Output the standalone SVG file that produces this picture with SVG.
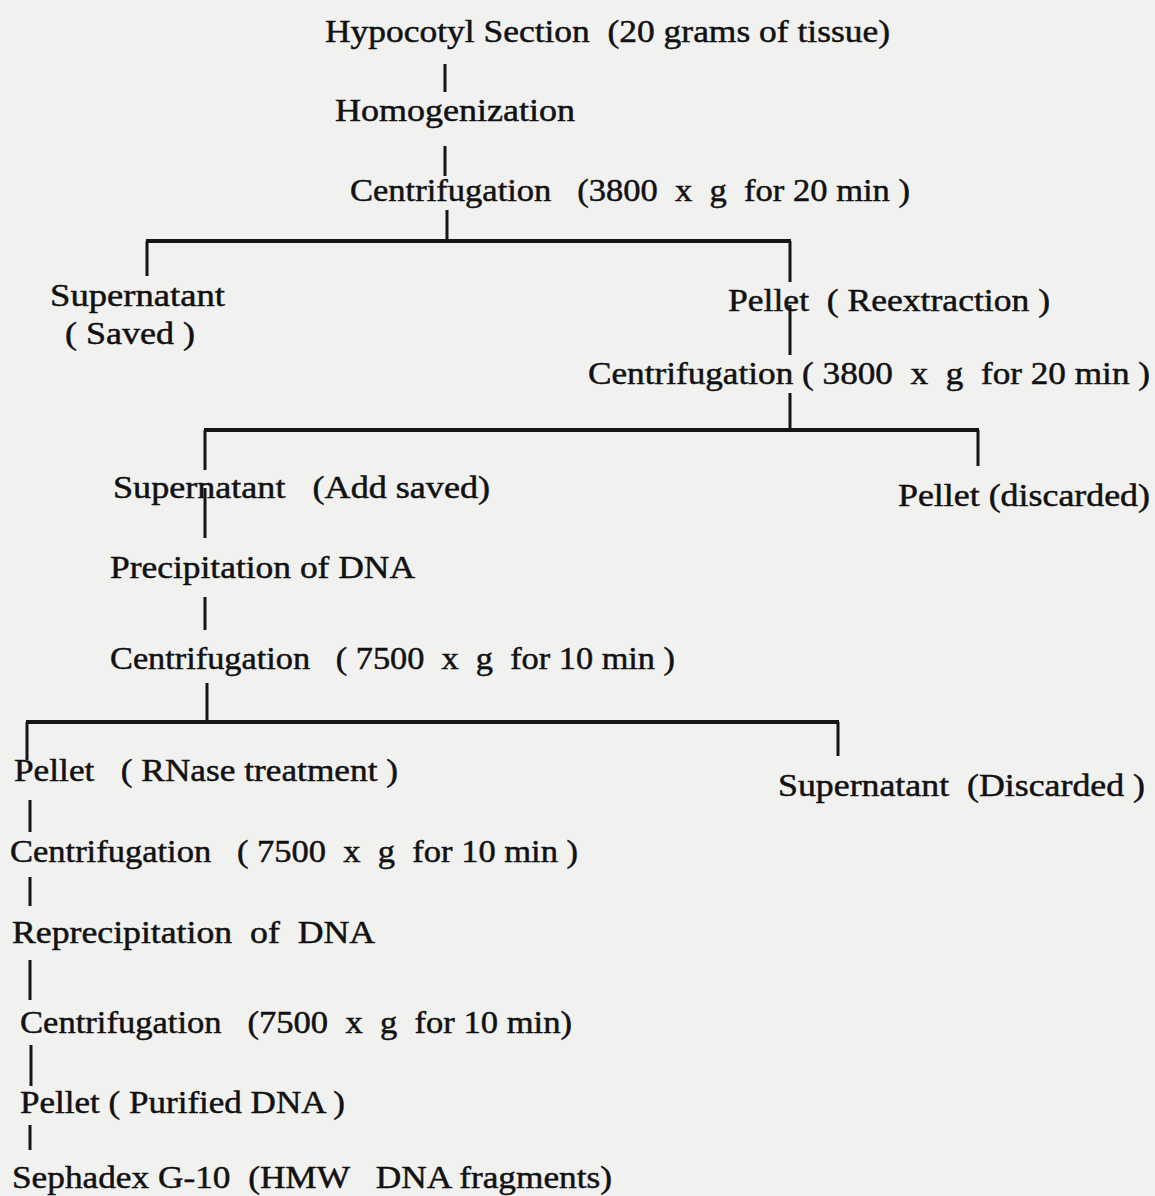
<svg xmlns="http://www.w3.org/2000/svg" width="1155" height="1196" viewBox="0 0 1155 1196">
<style>
text{font-family:"Liberation Serif","DejaVu Serif",serif;font-size:32px;fill:#111;stroke:#111;stroke-width:0.5;white-space:pre}
.c line{stroke:#151515;stroke-width:3}
.c .h{stroke-width:4}
</style>
<rect width="1155" height="1196" fill="#f1f1f0"/>
<g class="c" id="connectors">
<line x1="445" y1="64" x2="445" y2="92"/>
<line x1="445" y1="146" x2="445" y2="176"/>
<line x1="447" y1="210" x2="447" y2="241"/>
<line class="h" x1="146" y1="241" x2="791" y2="241"/>
<line x1="147" y1="241" x2="147" y2="276"/>
<line x1="790" y1="241" x2="790" y2="282"/>
<line x1="790" y1="305" x2="790" y2="355"/>
<line x1="790" y1="393" x2="790" y2="430"/>
<line class="h" x1="204" y1="430" x2="979" y2="430"/>
<line x1="205" y1="430" x2="205" y2="470"/>
<line x1="978" y1="430" x2="978" y2="466"/>
<line x1="205" y1="488" x2="205" y2="538"/>
<line x1="205" y1="597" x2="205" y2="630"/>
<line x1="207" y1="683" x2="207" y2="722"/>
<line class="h" x1="26" y1="722" x2="839" y2="722"/>
<line x1="27" y1="722" x2="27" y2="760"/>
<line x1="838" y1="722" x2="838" y2="756"/>
<line x1="30" y1="800" x2="30" y2="832"/>
<line x1="30" y1="877" x2="30" y2="906"/>
<line x1="30" y1="960" x2="30" y2="1000"/>
<line x1="31" y1="1045" x2="31" y2="1086"/>
<line x1="30" y1="1125" x2="30" y2="1150"/>
</g>
<g id="n1"><text x="325" y="42" textLength="565" lengthAdjust="spacingAndGlyphs">Hypocotyl Section  (20 grams of tissue)</text></g>
<g id="n2"><text x="335" y="121" textLength="240" lengthAdjust="spacingAndGlyphs">Homogenization</text></g>
<g id="n3"><text x="350" y="201" textLength="560" lengthAdjust="spacingAndGlyphs">Centrifugation   (3800  x  g  for 20 min )</text></g>
<g id="n4"><text x="50" y="306" textLength="175" lengthAdjust="spacingAndGlyphs">Supernatant</text><text x="65" y="344" textLength="130" lengthAdjust="spacingAndGlyphs">( Saved )</text></g>
<g id="n5"><text x="728" y="311" textLength="322" lengthAdjust="spacingAndGlyphs">Pellet  ( Reextraction )</text></g>
<g id="n6"><text x="588" y="384" textLength="562" lengthAdjust="spacingAndGlyphs">Centrifugation ( 3800  x  g  for 20 min )</text></g>
<g id="n7"><text x="113" y="498" textLength="377" lengthAdjust="spacingAndGlyphs">Supernatant   (Add saved)</text></g>
<g id="n8"><text x="898" y="506" textLength="252" lengthAdjust="spacingAndGlyphs">Pellet (discarded)</text></g>
<g id="n9"><text x="110" y="578" textLength="305" lengthAdjust="spacingAndGlyphs">Precipitation of DNA</text></g>
<g id="n10"><text x="110" y="669" textLength="565" lengthAdjust="spacingAndGlyphs">Centrifugation   ( 7500  x  g  for 10 min )</text></g>
<g id="n11"><text x="14" y="781" textLength="384" lengthAdjust="spacingAndGlyphs">Pellet   ( RNase treatment )</text></g>
<g id="n12"><text x="778" y="796" textLength="367" lengthAdjust="spacingAndGlyphs">Supernatant  (Discarded )</text></g>
<g id="n13"><text x="10" y="862" textLength="568" lengthAdjust="spacingAndGlyphs">Centrifugation   ( 7500  x  g  for 10 min )</text></g>
<g id="n14"><text x="12" y="943" textLength="363" lengthAdjust="spacingAndGlyphs">Reprecipitation  of  DNA</text></g>
<g id="n15"><text x="20" y="1033" textLength="552" lengthAdjust="spacingAndGlyphs">Centrifugation   (7500  x  g  for 10 min)</text></g>
<g id="n16"><text x="20" y="1113" textLength="325" lengthAdjust="spacingAndGlyphs">Pellet ( Purified DNA )</text></g>
<g id="n17"><text x="12" y="1188" textLength="600" lengthAdjust="spacingAndGlyphs">Sephadex G-10  (HMW   DNA fragments)</text></g>
</svg>
